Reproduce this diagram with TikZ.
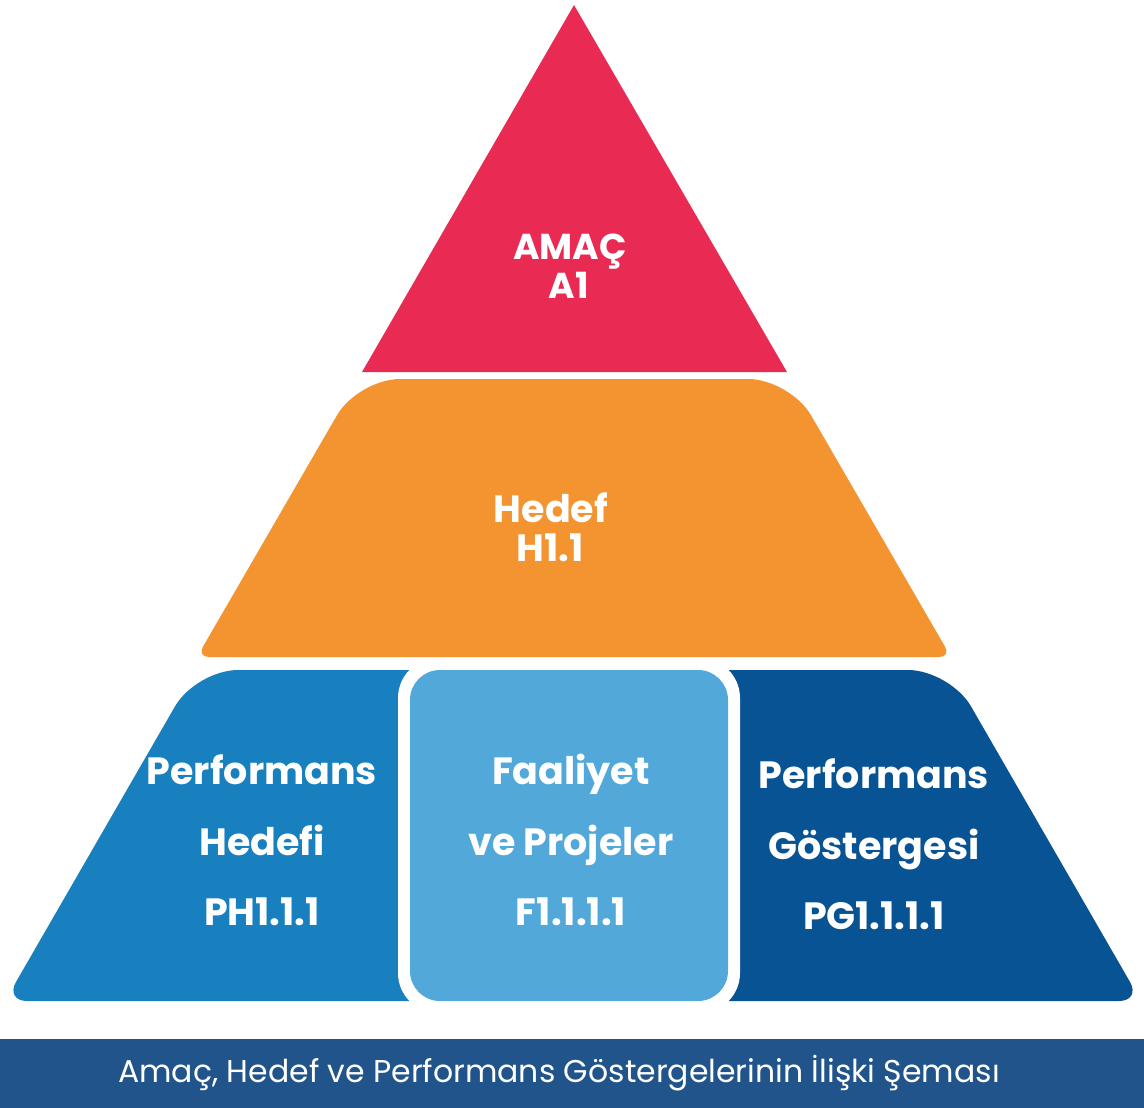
\documentclass[tikz,border=0pt]{standalone}
\usepackage{fontspec}
\setsansfont{Poppins}
\usepackage{tikz}
\usetikzlibrary{positioning}
\definecolor{amacred}{HTML}{E92A52}
\definecolor{hedeforange}{HTML}{F39430}
\definecolor{phblue}{HTML}{1880BF}
\definecolor{fblue}{HTML}{52A8D9}
\definecolor{pgblue}{HTML}{085394}
\definecolor{barblue}{HTML}{20548A}
\tikzset{lbl/.style={text=white, font=\sffamily\bfseries\fontsize{38}{40}\selectfont, anchor=base, inner sep=0pt},
         toplbl/.style={lbl, font=\sffamily\bfseries\fontsize{36}{38}\selectfont},
         caplbl/.style={text=white, font=\sffamily\fontsize{31.5}{34}\selectfont, inner sep=0pt}}

\begin{document}
\begin{tikzpicture}[x=1pt,y=-1pt]
    \useasboundingbox (0,0) rectangle (1144,1108);
    % pyramid layers
    \fill[amacred](574,5)--(787,372)--(362,372)--cycle;
    \fill[hedeforange](574,657)[rounded corners=12pt]--(197,657)[rounded corners=42pt]--(358,379)--(790,379)[rounded corners=12pt]--(951,657)--cycle;
    \fill[phblue](420,1001)[rounded corners=22pt]--(5,1001)[rounded corners=42pt]--(196,670)[sharp corners]--(420,670)--cycle;
    \fill[pgblue](720,670)[rounded corners=42pt]--(950,670)[rounded corners=22pt]--(1141,1001)[sharp corners]--(720,1001)--cycle;
    \fill[white,rounded corners=40pt](398,658) rectangle (740,1013);
    \fill[fblue,rounded corners=30pt](410,670) rectangle (728,1001);
    % caption bar
    \fill[barblue](0,1039) rectangle (1144,1108);
    % labels
    \node[toplbl] (amac) at (570,259) {AMAÇ};
    \node[toplbl] (aone) at (569,298) {A1};
    \node[lbl] (hedef) at (551,522) {Hedef};
    \node[lbl] (hone) at (550,561) {H1.1};
    \node[lbl] (phA) at (262,784) {Performans};
    \node[lbl] (phB) at (262,855) {Hedefi};
    \node[lbl] (phC) at (262,925) {PH1.1.1};
    \node[lbl] (fA) at (571,784) {Faaliyet};
    \node[lbl] (fB) at (571,855) {ve Projeler};
    \node[lbl] (fC) at (571,925) {F1.1.1.1};
    \node[lbl] (pgA) at (874,788) {Performans};
    \node[lbl] (pgB) at (874,859) {Göstergesi};
    \node[lbl] (pgC) at (874,929) {PG1.1.1.1};
    \node[caplbl] (cap) at (559,1073) {Amaç, Hedef ve Performans Göstergelerinin İlişki Şeması};
\end{tikzpicture}
\end{document}
